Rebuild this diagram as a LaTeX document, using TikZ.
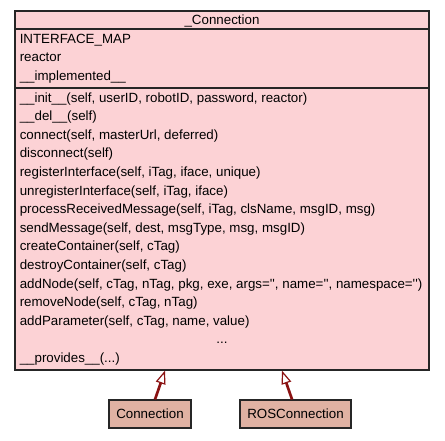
\documentclass[tikz,border=0pt]{standalone}
\usepackage{fontspec}
\newfontfamily\umlfont{Liberation Sans}
\usetikzlibrary{arrows.meta}
\definecolor{mainfill}{RGB}{252,210,213}
\definecolor{subfill}{RGB}{224,178,163}
\definecolor{edgered}{RGB}{139,18,18}
\begin{document}
\begin{tikzpicture}[x=0.75pt,y=-0.75pt,
  font=\umlfont\fontsize{10}{12}\selectfont,
  box/.style={draw=black!85, line width=0.9pt, inner sep=0},
  txt/.style={anchor=base west, inner sep=0},
  sep/.style={draw=black!85, line width=0.9pt},
  inh/.style={draw=edgered, line width=2pt, -{Triangle[open, length=10pt, width=7.5pt, line width=0.9pt]}}]
\useasboundingbox (0,0) rectangle (445,440);
% main class box
\node[box, fill=mainfill, minimum width=310.5pt, minimum height=269.25pt] (main) at (222,190.5) {};
\draw[sep] (15,29) -- (429,29);
\draw[sep] (15,88) -- (429,88);
\node[anchor=base, inner sep=0] (title) at (222,24) {\_Connection};
% attributes
\node[txt] (a1) at (19.5,43) {INTERFACE\_MAP};
\node[txt] (a2) at (19.5,61.5) {reactor};
\node[txt] (a3) at (19.5,80) {\_\_implemented\_\_};
% methods
\node[txt] (m1) at (19.5,102) {\_\_init\_\_(self, userID, robotID, password, reactor)};
\node[txt] (m2) at (19.5,120.6) {\_\_del\_\_(self)};
\node[txt] (m3) at (19.5,139.2) {connect(self, masterUrl, deferred)};
\node[txt] (m4) at (19.5,157.8) {disconnect(self)};
\node[txt] (m5) at (19.5,176.4) {registerInterface(self, iTag, iface, unique)};
\node[txt] (m6) at (19.5,195) {unregisterInterface(self, iTag, iface)};
\node[txt] (m7) at (19.5,213.6) {processReceivedMessage(self, iTag, clsName, msgID, msg)};
\node[txt] (m8) at (19.5,232.2) {sendMessage(self, dest, msgType, msg, msgID)};
\node[txt] (m9) at (19.5,250.8) {createContainer(self, cTag)};
\node[txt] (m10) at (19.5,269.4) {destroyContainer(self, cTag)};
\node[txt] (m11) at (19.5,288) {addNode(self, cTag, nTag, pkg, exe, args='', name='', namespace='')};
\node[txt] (m12) at (19.5,306.6) {removeNode(self, cTag, nTag)};
\node[txt] (m13) at (19.5,325.2) {addParameter(self, cTag, name, value)};
\node[anchor=base, inner sep=0] (dots) at (222,343.8) {...};
\node[txt] (m14) at (19.5,362.4) {\_\_provides\_\_(...)};
% subclasses
\node[box, fill=subfill, minimum width=61.5pt, minimum height=21pt] (c1) at (150,414) {Connection};
\node[box, fill=subfill, minimum width=83.25pt, minimum height=21pt] (c2) at (295.5,414) {ROSConnection};
% inheritance
\draw[inh] ([xshift=3.75pt]c1.north) -- ([xshift=-42.75pt]main.south);
\draw[inh] ([xshift=-2.6pt]c2.north) -- ([xshift=45pt]main.south);
\end{tikzpicture}
\end{document}
